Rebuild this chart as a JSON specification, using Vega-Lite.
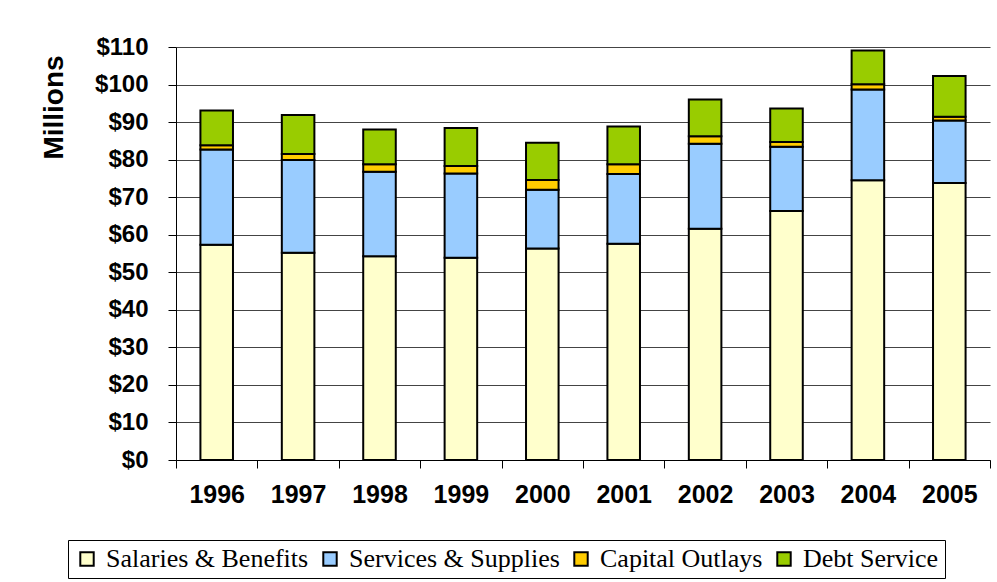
{
  "$schema": "https://vega.github.io/schema/vega-lite/v6.json",
  "autosize": {"type": "none"},
  "padding": {"left": 176, "top": 47, "right": 7, "bottom": 122},
  "width": 814,
  "height": 413,
  "background": "white",
  "config": {
    "view": {"stroke": null},
    "font": "Liberation Sans"
  },
  "data": {
    "values": [
      {"year": "1996", "category": "Salaries & Benefits", "amount": 57.3},
      {"year": "1996", "category": "Services & Supplies", "amount": 25.4},
      {"year": "1996", "category": "Capital Outlays", "amount": 1.1},
      {"year": "1996", "category": "Debt Service", "amount": 9.3},
      {"year": "1997", "category": "Salaries & Benefits", "amount": 55.2},
      {"year": "1997", "category": "Services & Supplies", "amount": 24.7},
      {"year": "1997", "category": "Capital Outlays", "amount": 1.6},
      {"year": "1997", "category": "Debt Service", "amount": 10.4},
      {"year": "1998", "category": "Salaries & Benefits", "amount": 54.3},
      {"year": "1998", "category": "Services & Supplies", "amount": 22.5},
      {"year": "1998", "category": "Capital Outlays", "amount": 2.0},
      {"year": "1998", "category": "Debt Service", "amount": 9.2},
      {"year": "1999", "category": "Salaries & Benefits", "amount": 53.9},
      {"year": "1999", "category": "Services & Supplies", "amount": 22.4},
      {"year": "1999", "category": "Capital Outlays", "amount": 2.0},
      {"year": "1999", "category": "Debt Service", "amount": 10.1},
      {"year": "2000", "category": "Salaries & Benefits", "amount": 56.3},
      {"year": "2000", "category": "Services & Supplies", "amount": 15.7},
      {"year": "2000", "category": "Capital Outlays", "amount": 2.6},
      {"year": "2000", "category": "Debt Service", "amount": 9.9},
      {"year": "2001", "category": "Salaries & Benefits", "amount": 57.6},
      {"year": "2001", "category": "Services & Supplies", "amount": 18.6},
      {"year": "2001", "category": "Capital Outlays", "amount": 2.6},
      {"year": "2001", "category": "Debt Service", "amount": 10.0},
      {"year": "2002", "category": "Salaries & Benefits", "amount": 61.6},
      {"year": "2002", "category": "Services & Supplies", "amount": 22.6},
      {"year": "2002", "category": "Capital Outlays", "amount": 2.0},
      {"year": "2002", "category": "Debt Service", "amount": 9.8},
      {"year": "2003", "category": "Salaries & Benefits", "amount": 66.3},
      {"year": "2003", "category": "Services & Supplies", "amount": 17.1},
      {"year": "2003", "category": "Capital Outlays", "amount": 1.3},
      {"year": "2003", "category": "Debt Service", "amount": 8.9},
      {"year": "2004", "category": "Salaries & Benefits", "amount": 74.5},
      {"year": "2004", "category": "Services & Supplies", "amount": 24.2},
      {"year": "2004", "category": "Capital Outlays", "amount": 1.4},
      {"year": "2004", "category": "Debt Service", "amount": 9.0},
      {"year": "2005", "category": "Salaries & Benefits", "amount": 73.8},
      {"year": "2005", "category": "Services & Supplies", "amount": 16.6},
      {"year": "2005", "category": "Capital Outlays", "amount": 1.0},
      {"year": "2005", "category": "Debt Service", "amount": 10.9}
    ]
  },
  "transform": [
    {"calculate": "indexof(['Salaries & Benefits','Services & Supplies','Capital Outlays','Debt Service'], datum.category)", "as": "stackOrder"}
  ],
  "mark": {"type": "bar", "stroke": "black", "strokeWidth": 2, "width": {"band": 0.4}},
  "encoding": {
    "x": {
      "field": "year",
      "type": "nominal",
      "scale": {"paddingInner": 0, "paddingOuter": 0},
      "axis": {
        "title": null,
        "labelAngle": 0,
        "labelFont": "Liberation Sans",
        "labelFontWeight": "bold",
        "labelFontSize": 25,
        "labelColor": "black",
        "labelPadding": 14,
        "tickBand": "extent",
        "tickSize": 8,
        "tickColor": "black",
        "domainColor": "black",
        "grid": false
      }
    },
    "y": {
      "field": "amount",
      "type": "quantitative",
      "aggregate": "sum",
      "stack": "zero",
      "scale": {"domain": [0, 110], "nice": false},
      "axis": {
        "values": [0, 10, 20, 30, 40, 50, 60, 70, 80, 90, 100, 110],
        "format": "$,.0f",
        "title": "Millions",
        "titleFont": "Liberation Sans",
        "titleFontWeight": "bold",
        "titleFontSize": 28,
        "titleColor": "black",
        "titleAngle": 270,
        "titleX": -122,
        "titleY": 60,
        "titleAlign": "center",
        "titleBaseline": "middle",
        "labelFont": "Liberation Sans",
        "labelFontWeight": "bold",
        "labelFontSize": 24,
        "labelColor": "black",
        "labelPadding": 20,
        "tickSize": 8,
        "tickColor": "black",
        "domainColor": "black",
        "grid": true,
        "gridColor": "#444444",
        "gridWidth": 1
      }
    },
    "color": {
      "field": "category",
      "type": "nominal",
      "scale": {
        "domain": ["Salaries & Benefits", "Services & Supplies", "Capital Outlays", "Debt Service"],
        "range": ["#FFFFCC", "#99CCFF", "#FFCC00", "#99CC00"]
      },
      "legend": {
        "title": null,
        "orient": "none",
        "direction": "horizontal",
        "legendX": -108,
        "legendY": 493,
        "strokeColor": "black",
        "padding": 6,
        "symbolType": "square",
        "symbolSize": 180,
        "symbolStrokeColor": "black",
        "symbolStrokeWidth": 2,
        "symbolOpacity": 1,
        "labelFont": "Liberation Serif",
        "labelFontSize": 26,
        "labelColor": "black",
        "labelLimit": 400,
        "labelOffset": 6,
        "columnPadding": 8
      }
    },
    "order": {"field": "stackOrder", "type": "quantitative", "sort": "ascending"}
  }
}
